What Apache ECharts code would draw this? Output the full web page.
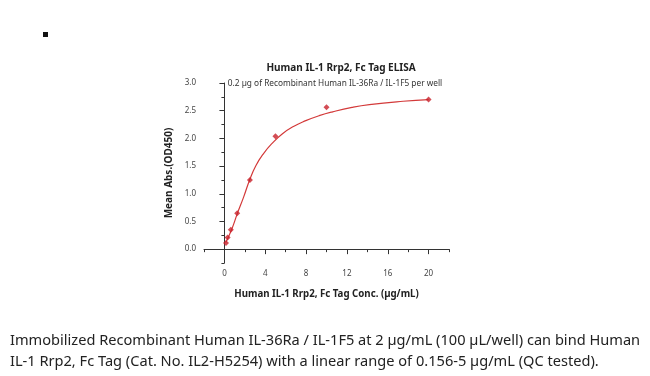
<!DOCTYPE html>
<html>
<head>
<meta charset="utf-8">
<script src="https://cdn.jsdelivr.net/npm/echarts@6/dist/echarts.min.js"></script>
<style>
  html, body { margin: 0; padding: 0; background: #fff; }
  #chart { width: 650px; height: 376px; }
</style>
</head>
<body>
<div id="chart"></div>
<script>
// measured points: concentration (ug/mL) vs mean OD450
const concValues = [0.156, 0.3125, 0.625, 1.25, 2.5, 5, 10, 20];
const odValues = [0.11, 0.21, 0.35, 0.65, 1.25, 2.04, 2.56, 2.70];

// fitted curve
const curveX = [0.13, 0.72, 1.28, 1.88, 2.47, 3.09, 3.85, 4.67, 5.66, 6.81, 7.97, 9.28, 10.6, 12.5, 14.2, 17.5, 20];
const curveY = [0.12, 0.36, 0.65, 0.94, 1.25, 1.51, 1.73, 1.91, 2.08, 2.22, 2.32, 2.41, 2.48, 2.56, 2.61, 2.67, 2.70];

const xTickLabels = [0, 4, 8, 12, 16, 20];
const yTickLabels = [0, 0.5, 1.0, 1.5, 2.0, 2.5, 3.0];

const titleText = 'Human IL-1 Rrp2, Fc Tag ELISA';
const subtitleText = '0.2 \u00b5g of Recombinant Human IL-36Ra / IL-1F5 per well';
const xName = 'Human IL-1 Rrp2, Fc Tag Conc. (\u00b5g/mL)';
const yName = 'Mean Abs.(OD450)';
const captionLines = [
  'Immobilized Recombinant Human IL-36Ra / IL-1F5 at 2 \u00b5g/mL (100 \u00b5L/well) can bind Human',
  'IL-1 Rrp2, Fc Tag (Cat. No. IL2-H5254) with a linear range of 0.156-5 \u00b5g/mL (QC tested).'
];

const FONT = '"Noto Sans", "DejaVu Sans", sans-serif';
const axisColor = '#333';

const chart = echarts.init(document.getElementById('chart'));

const baseX = { type: 'value', min: -2, max: 22, splitLine: { show: false } };
const baseY = { type: 'value', min: -0.25, max: 3, splitLine: { show: false } };

chart.setOption({
  animation: false,
  backgroundColor: '#fff',
  textStyle: { fontFamily: FONT },
  title: [
    { text: titleText, left: 336, top: 58, textAlign: 'center',
      textStyle: { fontSize: 10, fontWeight: 'bold', color: '#222', fontFamily: FONT } },
    { text: subtitleText, left: 330, top: 75, textAlign: 'center',
      textStyle: { fontSize: 8.3, fontWeight: 'normal', color: '#333', fontFamily: FONT } }
  ],
  grid: { left: 204, right: 201, top: 83, height: 180 },
  xAxis: [
    Object.assign({}, baseX, {
      interval: 2,
      axisLine: { show: true, lineStyle: { color: axisColor, width: 1 } },
      axisTick: { show: true, length: 3, lineStyle: { color: axisColor } },
      axisLabel: { show: false },
      name: xName, nameLocation: 'middle', nameGap: 26,
      nameTextStyle: { fontSize: 9.7, fontWeight: 'bold', color: '#222', fontFamily: FONT }
    }),
    Object.assign({}, baseX, {
      position: 'bottom',
      axisLine: { show: true, lineStyle: { color: 'rgba(0,0,0,0)' } },
      axisTick: { show: true, length: 5, customValues: xTickLabels, lineStyle: { color: axisColor, width: 1 } },
      axisLabel: { show: true, customValues: xTickLabels, fontSize: 8, color: '#444', margin: 7 }
    })
  ],
  yAxis: [
    Object.assign({}, baseY, {
      interval: 0.25,
      axisLine: { show: true, lineStyle: { color: axisColor, width: 1 } },
      axisTick: { show: true, length: 3, lineStyle: { color: axisColor } },
      axisLabel: { show: false },
      name: yName, nameLocation: 'middle', nameGap: 30,
      nameTextStyle: { fontSize: 10, fontWeight: 'bold', color: '#222', fontFamily: FONT }
    }),
    Object.assign({}, baseY, {
      position: 'left',
      axisLine: { show: true, lineStyle: { color: 'rgba(0,0,0,0)' } },
      axisTick: { show: true, length: 5, customValues: yTickLabels, lineStyle: { color: axisColor, width: 1 } },
      axisLabel: { show: true, customValues: yTickLabels, fontSize: 8, color: '#444', margin: 8,
        formatter: v => v.toFixed(1) }
    })
  ],
  series: [
    {
      type: 'line',
      data: curveX.map((x, i) => [x, curveY[i]]),
      smooth: 0.5,
      showSymbol: false,
      lineStyle: { color: '#d33a3a', width: 1.2 },
      z: 2
    },
    {
      type: 'scatter',
      data: concValues.map((x, i) => [x, odValues[i]]),
      symbol: 'diamond',
      symbolSize: 6,
      itemStyle: { color: '#c8202a' },
      z: 3
    }
  ],
  graphic: [
    { type: 'rect', shape: { x: 43, y: 32, width: 5, height: 5 }, style: { fill: '#111' } },
    { type: 'text', left: 10, top: 333,
      style: { text: captionLines[0], font: '14.6px ' + FONT, fill: '#222' } },
    { type: 'text', left: 10, top: 354,
      style: { text: captionLines[1], font: '14.6px ' + FONT, fill: '#222' } }
  ]
});
</script>
</body>
</html>
